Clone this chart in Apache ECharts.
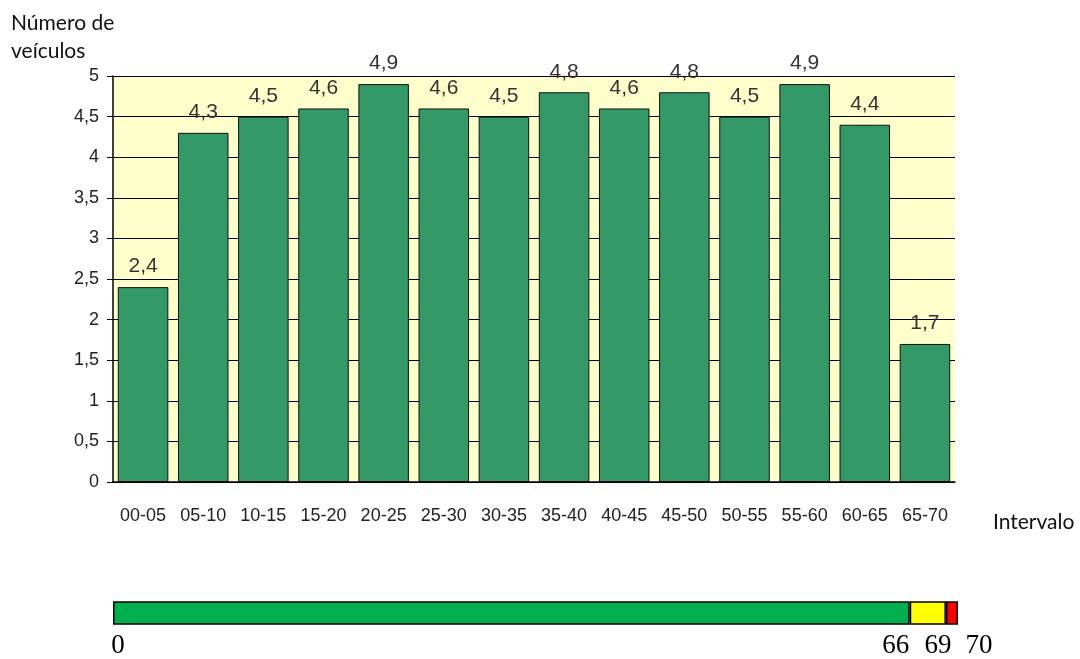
<!DOCTYPE html>
<html lang="pt">

<head>
    <meta charset="UTF-8">
    <title>Número de veículos</title>
    <script src="https://cdn.jsdelivr.net/npm/echarts@6/dist/echarts.min.js"></script>
    <style>
        body { margin: 0; background: #fff; }
    </style>
</head>

<body>
    <div id="main" style="width: 1080px;height:659px;"></div>
    <script type="text/javascript">
        // dados
        var intervalos = ['00-05', '05-10', '10-15', '15-20', '20-25', '25-30', '30-35',
            '35-40', '40-45', '45-50', '50-55', '55-60', '60-65', '65-70']
        var veiculos = [2.4, 4.3, 4.5, 4.6, 4.9, 4.6, 4.5, 4.8, 4.6, 4.8, 4.5, 4.9, 4.4, 1.7]

        // barra de baixo (0 - 66 - 69 - 70)
        var limites = [0, 66, 69, 70]
        var faixas = [66, 3, 1]
        var coresFaixas = ['#00b050', '#ffff00', '#ff0000']

        function virgula(v) {
            return String(v).replace('.', ',')
        }

        var myChart = echarts.init(document.getElementById('main'));

        var faixaSeries = faixas.map(function (v, i) {
            return {
                type: 'bar',
                stack: 'faixa',
                xAxisIndex: 1,
                yAxisIndex: 1,
                barWidth: 24,
                data: [v],
                itemStyle: { color: coresFaixas[i], borderColor: '#000', borderWidth: 1.5 },
                silent: true
            }
        })

        var serif = 'Liberation Serif'
        var option = {
            animation: false,
            title: [
                {
                    text: 'Número de\nveículos',
                    left: 6, top: 4,
                    textStyle: { fontFamily: 'Lato', fontWeight: 'normal', fontSize: 21, color: '#111', lineHeight: 28 }
                },
                {
                    text: 'Intervalo',
                    left: 988, top: 507,
                    textStyle: { fontFamily: 'Lato', fontWeight: 'normal', fontSize: 21, color: '#111' }
                }
            ],
            grid: [
                { left: 113, right: 125, top: 76, height: 406 },
                { left: 113, right: 122, top: 602, height: 24 }
            ],
            xAxis: [
                {
                    type: 'category',
                    data: intervalos,
                    gridIndex: 0,
                    axisLine: { lineStyle: { color: '#000', width: 1.5 } },
                    axisTick: { length: 6, lineStyle: { color: '#000' } },
                    axisLabel: { margin: 25, fontFamily: 'Liberation Sans', fontSize: 18, color: '#222' }
                },
                {
                    type: 'value',
                    gridIndex: 1,
                    min: 0, max: 70,
                    axisLine: { show: false },
                    axisTick: { show: false },
                    splitLine: { show: false },
                    axisLabel: {
                        customValues: limites,
                        margin: 8,
                        fontFamily: serif, fontSize: 27, color: '#000',
                        formatter: function (v) { return '{p' + v + '|' + v + '}' },
                        rich: {
                            p0: { fontFamily: serif, fontSize: 27, color: '#000', padding: [0, 0, 0, 10] },
                            p66: { fontFamily: serif, fontSize: 27, color: '#000', padding: [0, 28, 0, 0] },
                            p69: { fontFamily: serif, fontSize: 27, color: '#000', padding: [0, 16, 0, 0] },
                            p70: { fontFamily: serif, fontSize: 27, color: '#000', padding: [0, 0, 0, 42] }
                        }
                    }
                }
            ],
            yAxis: [
                {
                    type: 'value',
                    gridIndex: 0,
                    min: 0, max: 5, interval: 0.5,
                    axisLine: { show: true, lineStyle: { color: '#000', width: 1.5 } },
                    axisTick: { show: true, length: 6, lineStyle: { color: '#000' } },
                    splitLine: { lineStyle: { color: '#000', width: 1 } },
                    splitArea: { show: true, areaStyle: { color: ['#ffffcc', '#ffffcc'] } },
                    axisLabel: { margin: 14, fontFamily: 'Liberation Sans', fontSize: 18, color: '#222', formatter: virgula }
                },
                {
                    type: 'category',
                    gridIndex: 1,
                    data: [''],
                    show: false
                }
            ],
            series: [
                {
                    name: 'veículos',
                    type: 'bar',
                    data: veiculos,
                    barCategoryGap: '16%',
                    itemStyle: { color: '#339966', borderColor: '#111', borderWidth: 1 },
                    label: {
                        show: true,
                        position: 'top',
                        distance: 10,
                        fontFamily: 'Liberation Sans',
                        fontSize: 21,
                        color: '#333',
                        formatter: function (p) { return virgula(p.value) }
                    }
                }
            ].concat(faixaSeries)
        };

        myChart.setOption(option);
    </script>
</body>

</html>
